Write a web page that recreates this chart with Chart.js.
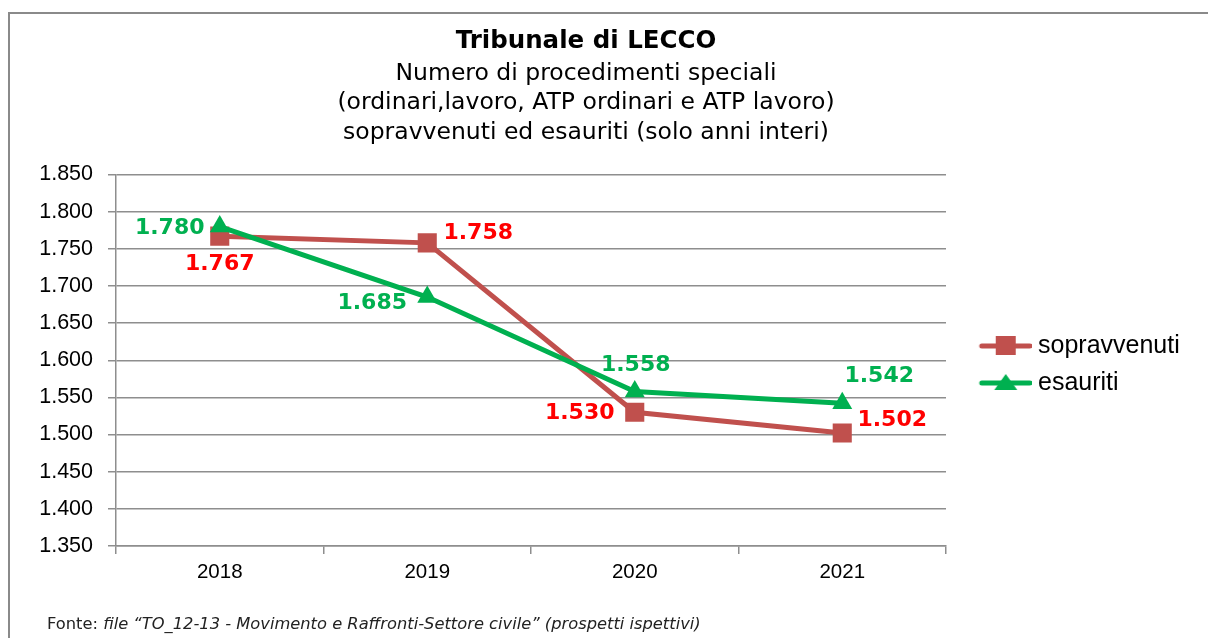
<!DOCTYPE html>
<html>
<head>
<meta charset="utf-8">
<title>Tribunale di LECCO</title>
<script src="https://cdn.jsdelivr.net/npm/chart.js@4.4.1/dist/chart.umd.min.js"></script>
<style>
  html, body { margin: 0; padding: 0; background: #fff; }
  #wrap { position: relative; width: 1208px; height: 638px; overflow: hidden; }
  #frame { position: absolute; left: 8px; top: 12px; right: 0; bottom: -4px; border-top: 2px solid #8a8a8a; border-left: 2px solid #8a8a8a; }
  /* canvas starts a bit left of the page so the title centres like the original */
  #chart { position: absolute; left: -36px; top: 0; }
  #fonte { position: absolute; left: 47px; top: 614px; font: 16.3px "DejaVu Sans", sans-serif; color: #222; white-space: nowrap; }
</style>
</head>
<body>
<div id="wrap">
  <div id="frame"></div>
  <canvas id="chart" width="1244" height="638"></canvas>
  <div id="fonte">Fonte: <i>file “TO_12-13 - Movimento e Raffronti-Settore civile” (prospetti ispettivi)</i></div>
</div>
<script>
// Data
const categories = ['2018', '2019', '2020', '2021'];
const sopravvenuti = [1767, 1758, 1530, 1502];
const esauriti = [1780, 1685, 1558, 1542];
const yTicks = [1350, 1400, 1450, 1500, 1550, 1600, 1650, 1700, 1750, 1800, 1850];

const RED_LINE = '#C0504D';
const GREEN = '#00B050';

// where each value label sits, relative to its point (dx, dy)
const labelOffsets = [
  [[0, 28], [51, -10], [-55, 1], [50, -13]],
  [[-50, 2], [-55, 6], [1, -26], [37, -27]]
];
const labelColors = ['#FF0000', GREEN];

// 1850 -> "1.850"
function fmt(v) {
  const t = Math.floor(v / 1000);
  const r = String(Math.round(v % 1000)).padStart(3, '0');
  return t > 0 ? t + '.' + r : String(Math.round(v));
}

// legend icon: short line with the marker in the middle
function makeIcon(color, style) {
  const c = document.createElement('canvas');
  c.width = 80; c.height = 26;
  const g = c.getContext('2d');
  g.strokeStyle = color;
  g.lineWidth = 5;
  g.lineCap = 'round';
  g.beginPath(); g.moveTo(30, 13); g.lineTo(78, 13); g.stroke();
  g.fillStyle = color;
  if (style === 'rect') {
    g.fillRect(44, 3, 20, 19);
  } else {
    g.beginPath(); g.moveTo(54, 4); g.lineTo(65.5, 20); g.lineTo(42.5, 20); g.closePath(); g.fill();
  }
  return c;
}
const legendIcons = [makeIcon(RED_LINE, 'rect'), makeIcon(GREEN, 'triangle')];

const valueLabels = {
  id: 'valueLabels',
  afterInit(chart) {
    // fixed legend width so the plot ends where the original does
    const lg = chart.legend;
    const fit = lg.fit;
    lg.fit = function() { fit.call(this); this.width = 262; };
  },
  afterDatasetsDraw(chart) {
    const ctx = chart.ctx;
    ctx.save();
    ctx.font = 'bold 22px "DejaVu Sans"';
    ctx.textAlign = 'center';
    ctx.textBaseline = 'middle';
    chart.data.datasets.forEach((ds, i) => {
      const meta = chart.getDatasetMeta(i);
      ctx.fillStyle = labelColors[i];
      meta.data.forEach((pt, j) => {
        const off = labelOffsets[i][j];
        ctx.fillText(fmt(ds.data[j]), pt.x + off[0], pt.y + off[1]);
      });
    });
    ctx.restore();
  }
};

const gridColor = '#8e8e8e';

new Chart(document.getElementById('chart'), {
  type: 'line',
  data: {
    labels: categories,
    datasets: [
      {
        label: 'sopravvenuti',
        data: sopravvenuti,
        borderColor: RED_LINE,
        backgroundColor: RED_LINE,
        borderWidth: 5,
        pointStyle: 'rect',
        pointRadius: 13.5,
        pointBorderWidth: 0,
        tension: 0,
        order: 2
      },
      {
        label: 'esauriti',
        data: esauriti,
        borderColor: GREEN,
        backgroundColor: GREEN,
        borderWidth: 5,
        pointStyle: 'triangle',
        pointRadius: 11.5,
        pointBorderWidth: 0,
        tension: 0,
        order: 1
      }
    ]
  },
  options: {
    responsive: false,
    animation: false,
    layout: { padding: 0 },
    plugins: {
      tooltip: { enabled: false },
      title: {
        display: true,
        text: 'Tribunale di LECCO',
        color: '#000',
        font: { family: 'DejaVu Sans', size: 24.5, weight: 'bold', lineHeight: '30px' },
        padding: { top: 27, bottom: 2 }
      },
      subtitle: {
        display: true,
        text: [
          'Numero di procedimenti speciali',
          '(ordinari,lavoro, ATP ordinari e ATP lavoro)',
          'sopravvenuti ed esauriti (solo anni interi)'
        ],
        color: '#000',
        font: { family: 'DejaVu Sans', size: 23.5, lineHeight: '29.5px' },
        padding: { top: 0, bottom: 27 }
      },
      legend: {
        position: 'right',
        align: 'start',
        // blank title only pushes the two entries down to mid-height
        title: { display: true, text: ' ', font: { size: 10, lineHeight: '10px' }, padding: { top: 311.5, bottom: 0 } },
        labels: {
          usePointStyle: true,
          pointStyleWidth: 67.5,
          padding: 12,
          color: '#000',
          font: { family: 'Liberation Sans', size: 25 },
          generateLabels: chart => chart.data.datasets.map((ds, i) => ({
            text: ds.label,
            pointStyle: legendIcons[i],
            fillStyle: ds.borderColor,
            strokeStyle: ds.borderColor,
            lineWidth: 0,
            fontColor: '#000',
            hidden: false,
            datasetIndex: i
          }))
        }
      }
    },
    scales: {
      x: {
        offset: true,
        grid: { offset: true, drawOnChartArea: false, drawTicks: true, tickLength: 8, color: gridColor, lineWidth: 1.5 },
        border: { color: gridColor, width: 1.5 },
        ticks: { color: '#000', padding: 6, font: { family: 'Liberation Sans', size: 20.5 } },
        afterFit: s => { s.height = 92; }
      },
      y: {
        min: yTicks[0],
        max: yTicks[yTicks.length - 1],
        afterBuildTicks: s => { s.ticks = yTicks.map(v => ({ value: v })); },
        grid: { color: gridColor, lineWidth: 1.5, tickLength: 8 },
        border: { color: gridColor, width: 1.5 },
        ticks: {
          color: '#000',
          padding: 15,
          font: { family: 'Liberation Sans', size: 21.5 },
          callback: v => fmt(v)
        },
        afterFit: s => { s.width = 152; }
      }
    }
  },
  plugins: [valueLabels]
});
</script>
</body>
</html>
